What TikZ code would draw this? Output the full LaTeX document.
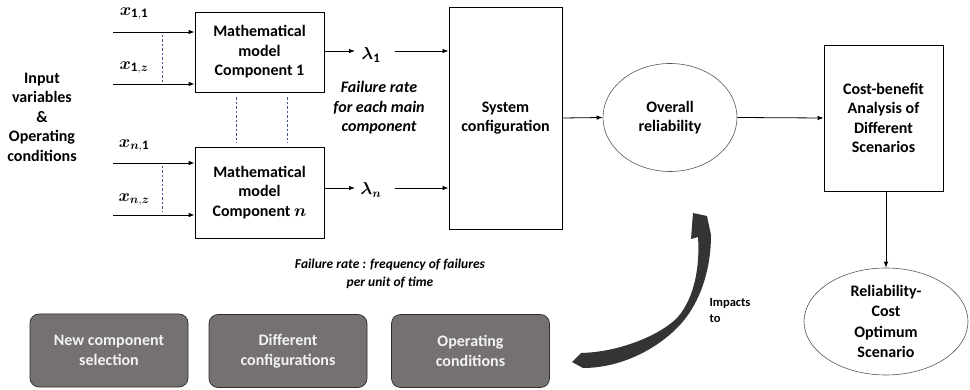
\documentclass[tikz,border=0pt]{standalone}
\usepackage{fontspec}
\setmainfont{Carlito}
\usepackage{bm}
\usetikzlibrary{arrows.meta,shapes.geometric}
\definecolor{boxgray}{RGB}{118,113,113}
\definecolor{boxedge}{RGB}{45,45,45}
\definecolor{boxtext}{RGB}{242,242,242}
\definecolor{dashblue}{RGB}{68,84,140}
\definecolor{curvegray}{RGB}{52,52,52}
\definecolor{ovedge}{RGB}{85,85,85}
\begin{document}
\begin{tikzpicture}[x=1pt,y=-1pt,
  txt/.style={font=\fontsize{16}{19.5}\selectfont\bfseries, align=center, text=black},
  blk/.style={draw=black, line width=0.8pt, inner sep=0pt, txt},
  ov/.style={draw=ovedge, ellipse, line width=0.6pt, inner sep=0pt, txt},
  gbox/.style={draw=boxedge, fill=boxgray, rounded corners=9pt, line width=0.7pt, minimum width=158pt, minimum height=73pt, inner sep=0pt, font=\fontsize{16}{20}\selectfont\bfseries, text=boxtext, align=center},
  arr/.style={-{Latex[length=6pt,width=4.5pt]}, line width=0.8pt},
  dsh/.style={dash pattern=on 2.5pt off 2pt, draw=dashblue, line width=0.6pt},
  ml/.style={font=\fontsize{18.5}{22}\selectfont}
]
\useasboundingbox (0,0) rectangle (970,390);

% left label
\node[txt] (inp) at (42,117) {Input\\variables\\\&\\Operating\\conditions};

% component boxes
\node[blk, minimum width=129pt, minimum height=80pt] (c1) at (259.5,52) {Mathematical\\model\\Component 1};
\node[blk, minimum width=129pt, minimum height=91pt] (cn) at (259.5,192.5) {Mathematical\\model\\Component $\bm{n}$};

% input labels
\node[ml] (l11) at (134,14) {$\bm{x}_{\mathbf{1,1}}$};
\node[ml] (l1z) at (134,68) {$\bm{x}_{\mathbf{1},\bm{z}}$};
\node[ml] (ln1) at (134,146) {$\bm{x}_{\bm{n},\mathbf{1}}$};
\node[ml] (lnz) at (134,200) {$\bm{x}_{\bm{n},\bm{z}}$};

\coordinate (t11) at (113,32);
\coordinate (t1z) at (113,84);
\coordinate (tn1) at (113,163);
\coordinate (tnz) at (113,215);
\draw[arr] (t11) -- (c1.west |- t11);
\draw[arr] (t1z) -- (c1.west |- t1z);
\draw[arr] (tn1) -- (cn.west |- tn1);
\draw[arr] (tnz) -- (cn.west |- tnz);

% dashed guides
\draw[dsh] (162,35) -- (162,82);
\draw[dsh] (162,166) -- (162,212);
\draw[dsh] ([xshift=-23.5pt,yshift=-5pt]c1.south) -- ([xshift=-23.5pt,yshift=4pt]cn.north);
\draw[dsh] ([xshift=27.5pt,yshift=-5pt]c1.south) -- ([xshift=27.5pt,yshift=4pt]cn.north);

% system configuration
\node[blk, minimum width=113pt, minimum height=222pt] (sys) at (505.5,118) {System\\configuration};

% lambdas
\node[ml] (lam1) at (371,55) {$\bm{\lambda}_{\mathbf{1}}$};
\node[ml] (lamn) at (371,190) {$\bm{\lambda}_{\bm{n}}$};
\coordinate (a1) at (355,51);
\coordinate (b1) at (395,51);
\coordinate (an) at (355,188);
\coordinate (bn) at (395,188);
\draw[arr] (c1.east |- a1) -- (a1);
\draw[arr] (b1) -- (sys.west |- b1);
\draw[arr] (cn.east |- an) -- (an);
\draw[arr] (bn) -- (sys.west |- bn);

\node[font=\fontsize{16}{19.5}\selectfont\bfseries\itshape, align=center] (fr) at (379,108) {Failure rate\\for each main\\component};

% overall reliability
\node[ov, minimum width=134pt, minimum height=108pt] (ovr) at (670,117.5) {Overall\\reliability};
\draw[arr] (sys.east) -- (ovr.west);

% cost-benefit
\node[blk, minimum width=119pt, minimum height=146pt] (cost) at (883.5,118) {Cost-benefit\\Analysis of\\Different\\Scenarios};
\draw[arr] (ovr.east) -- (cost.west);

% optimum
\node[ov, minimum width=164pt, minimum height=107pt] (opt) at (886,321.5) {};
\node[txt, font=\fontsize{16}{20.5}\selectfont\bfseries] (optT) at (opt) {Reliability-\\Cost\\Optimum\\Scenario};
\draw[arr] (cost.south -| opt.north) -- (opt.north);

% definition text
\node[font=\fontsize{13.5}{18}\selectfont\bfseries\itshape, align=center] (frdef) at (390,274) {Failure rate : frequency of failures\\per unit of time};

% bottom gray boxes
\node[gbox] (g1) at (109,350.5) {New component\\selection};
\node[gbox] (g2) at (288,351) {Different\\configurations};
\node[gbox] (g3) at (470.5,351) {Operating\\conditions};

% curved arrow
\fill[curvegray] (581,353) .. controls (620,352) and (660,335) .. (677,318)
  .. controls (695,298) and (700,265) .. (698,237)
  -- (691,239) -- (693,213) -- (707,216) -- (711,235)
  .. controls (711,270) and (700,305) .. (677,328)
  .. controls (655,350) and (620,368) .. (583,368)
  -- (572,362) -- cycle;

\node[font=\fontsize{12.5}{16}\selectfont\bfseries, align=left, anchor=west] (imp) at (706,310) {Impacts\\to};
\end{tikzpicture}
\end{document}
